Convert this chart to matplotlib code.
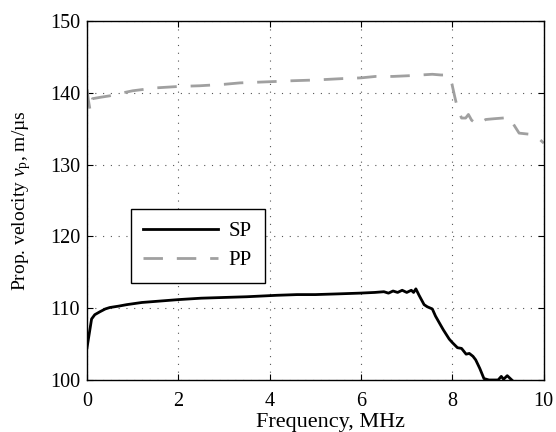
import matplotlib.pyplot as plt

plt.rcParams['font.family'] = 'Liberation Serif'
plt.rcParams['mathtext.fontset'] = 'custom'
plt.rcParams['mathtext.rm'] = 'Liberation Serif'
plt.rcParams['mathtext.it'] = 'Liberation Serif:italic'

# SP curve
sp_f = [0.0, 0.05, 0.1, 0.17, 0.28, 0.4, 0.5, 0.7, 0.87, 1.2, 1.6, 2.0, 2.5, 3.0, 3.5,
        4.15, 4.6, 5.0, 5.5, 5.96, 6.3, 6.5, 6.6, 6.7, 6.8, 6.9, 7.0, 7.1, 7.15, 7.2,
        7.27, 7.38, 7.45, 7.56, 7.63, 7.71, 7.8, 7.93, 8.0, 8.11, 8.2, 8.3, 8.37, 8.45,
        8.51, 8.6, 8.69, 8.8, 9.0, 9.07, 9.12, 9.2, 9.25, 9.3]
sp_v = [104.5, 106.5, 108.5, 109.1, 109.5, 109.9, 110.1, 110.3, 110.5, 110.8, 111.0, 111.2,
        111.4, 111.5, 111.6, 111.8, 111.9, 111.9, 112.0, 112.1, 112.2, 112.3, 112.1, 112.4,
        112.2, 112.5, 112.2, 112.5, 112.2, 112.7, 111.8, 110.5, 110.2, 109.9, 108.9, 108.0,
        107.0, 105.7, 105.2, 104.5, 104.4, 103.6, 103.7, 103.3, 102.8, 101.6, 100.2, 100.0,
        100.0, 100.5, 100.1, 100.6, 100.3, 100.0]

# PP curve
pp_f = [0.0, 0.03, 0.07, 0.12, 0.3, 0.5, 0.7, 1.0, 1.5, 2.0, 2.47, 3.0, 3.35, 4.15, 4.5,
        5.0, 5.6, 6.0, 6.32, 6.7, 7.05, 7.3, 7.56, 7.75, 7.86, 7.97, 8.05, 8.11, 8.2,
        8.29, 8.35, 8.42, 8.5, 8.58, 8.65, 8.73, 8.9, 9.1, 9.24, 9.35, 9.46, 9.75, 9.9, 10.0]
pp_v = [140.5, 139.0, 137.5, 139.2, 139.4, 139.6, 139.9, 140.3, 140.7, 140.9, 141.0, 141.2,
        141.4, 141.6, 141.7, 141.8, 142.0, 142.1, 142.3, 142.3, 142.4, 142.5, 142.6, 142.5,
        142.5, 141.8, 139.5, 137.9, 136.5, 136.5, 137.0, 136.2, 135.8, 135.6, 136.0, 136.3,
        136.4, 136.5, 136.6, 135.5, 134.4, 134.2, 133.6, 133.0]

fig = plt.figure(figsize=(5.56, 4.32), dpi=100)
ax = fig.add_axes([0.1565, 0.1204, 0.8215, 0.8306])

ax.plot(sp_f, sp_v, color='black', linewidth=2.0, label='SP')
ax.plot(pp_f, pp_v, color='#a0a0a0', linewidth=2.0, dashes=(7, 5), label='PP')

ax.set_xlim(0, 10)
ax.set_ylim(100, 150)
ax.set_xticks([0, 2, 4, 6, 8, 10])
ax.set_yticks([100, 110, 120, 130, 140, 150])
ax.tick_params(direction='in', top=True, right=True, labelsize=14.5, length=4)
ax.tick_params(axis='x', pad=9)
ax.tick_params(axis='y', pad=5)
ax.grid(True, color='#555555', linestyle=(0, (1, 6)), linewidth=0.8)
for s in ax.spines.values():
    s.set_linewidth(1.0)

ax.set_xlabel('Frequency, MHz', fontsize=16, va='baseline')
ax.xaxis.set_label_coords(0.534, -0.1309)
ax.set_ylabel(r'Prop. velocity $\it{v}_{\rm p}$, m/µs', fontsize=14, labelpad=12)

leg = ax.legend(loc='upper left', bbox_to_anchor=(0.096, 0.476), fontsize=15,
                fancybox=False, edgecolor='black', framealpha=1, handlelength=3.6,
                borderpad=0.6, labelspacing=0.45, handletextpad=0.5, borderaxespad=0)
leg.get_frame().set_linewidth(1.0)

fig.savefig('out.png', dpi=100)
